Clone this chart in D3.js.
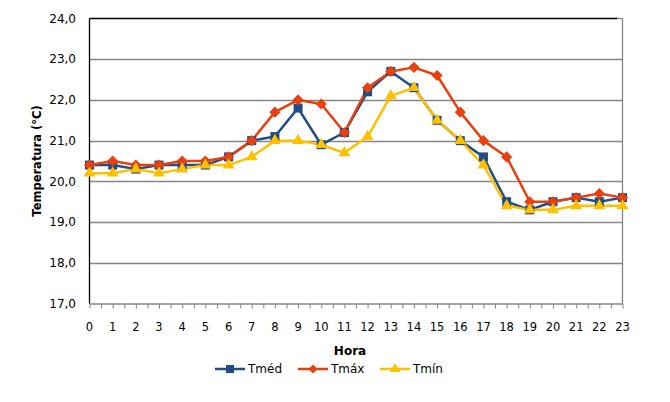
<!DOCTYPE html>
<html>
<head>
<meta charset="utf-8">
<script src="https://cdn.jsdelivr.net/npm/d3@7"></script>
<style>
  body { margin: 0; background: #fff; }
  text { font-family: "DejaVu Sans", Verdana, sans-serif; fill: #000; }
</style>
</head>
<body>
<svg id="chart"></svg>
<script>
// hourly temperature data (°C)
var hours = d3.range(0, 24);
var tmed = [20.4, 20.4, 20.3, 20.4, 20.4, 20.4, 20.6, 21.0, 21.1, 21.8, 20.9, 21.2,
            22.2, 22.7, 22.3, 21.5, 21.0, 20.6, 19.5, 19.3, 19.5, 19.6, 19.5, 19.6];
var tmax = [20.4, 20.5, 20.4, 20.4, 20.5, 20.5, 20.6, 21.0, 21.7, 22.0, 21.9, 21.2,
            22.3, 22.7, 22.8, 22.6, 21.7, 21.0, 20.6, 19.5, 19.5, 19.6, 19.7, 19.6];
var tmin = [20.2, 20.2, 20.3, 20.2, 20.3, 20.4, 20.4, 20.6, 21.0, 21.0, 20.9, 20.7,
            21.1, 22.1, 22.3, 21.5, 21.0, 20.4, 19.4, 19.3, 19.3, 19.4, 19.4, 19.4];
var yTicks = [17, 18, 19, 20, 21, 22, 23, 24];

var width = 670;
var height = 402;
var plot = { left: 89.5, right: 622.5, top: 18.5, bottom: 303.5 };

// square turned 45 degrees (d3's own diamond is too tall)
var squareDiamond = {
  draw: function(context, size) {
    var r = Math.sqrt(size / 2);
    context.moveTo(0, -r);
    context.lineTo(r, 0);
    context.lineTo(0, r);
    context.lineTo(-r, 0);
    context.closePath();
  }
};

var series = [
  { name: "Tméd", values: tmed, color: "#214C85", symbol: d3.symbolSquare, size: 81, legendSize: 64 },
  { name: "Tmáx", values: tmax, color: "#E8400E", symbol: squareDiamond, size: 62, legendSize: 40 },
  { name: "Tmín", values: tmin, color: "#FFC000", symbol: d3.symbolTriangle, size: 60, legendSize: 48 }
];

var svg = d3.select("#chart")
    .attr("width", width)
    .attr("height", height);

var xScale = d3.scaleLinear()
    .domain([0, 23])
    .range([plot.left, plot.right]);

var yScale = d3.scaleLinear()
    .domain([17, 24])
    .range([plot.bottom, plot.top]);

// gridlines
svg.append("g")
  .selectAll("line")
  .data(yTicks.filter(d => d > 17 && d < 24))
  .enter()
  .append("line")
   .attr("x1", plot.left)
   .attr("x2", plot.right)
   .attr("y1", d => Math.round(yScale(d)) + 0.5)
   .attr("y2", d => Math.round(yScale(d)) + 0.5)
   .attr("stroke", "#868686")
   .attr("stroke-width", 1.3);

// plot frame
svg.append("line")
  .attr("x1", plot.left).attr("x2", plot.right - 5)
  .attr("y1", plot.top).attr("y2", plot.top)
  .attr("stroke", "#000").attr("stroke-width", 1.3);
svg.append("line")
  .attr("x1", plot.right - 5).attr("x2", plot.right)
  .attr("y1", plot.top).attr("y2", plot.top)
  .attr("stroke", "#868686").attr("stroke-width", 1.3);
svg.append("line")
  .attr("x1", plot.right).attr("x2", plot.right)
  .attr("y1", plot.top).attr("y2", plot.bottom)
  .attr("stroke", "#868686").attr("stroke-width", 1.3);

// x axis with half-step ticks
var xAxis = d3.axisBottom(xScale)
    .tickValues(d3.range(0, 23.5, 0.5))
    .tickSize(5)
    .tickSizeOuter(0)
    .tickFormat("");

var gx = svg.append("g")
  .attr("transform", `translate(0, ${plot.bottom})`)
  .call(xAxis);
gx.select(".domain").attr("stroke", "#868686").attr("stroke-width", 1.3);
gx.selectAll(".tick line").attr("stroke", "#868686");

svg.append("g")
  .selectAll("text")
  .data(hours)
  .enter()
  .append("text")
   .attr("x", d => xScale(d))
   .attr("y", 331)
   .style("text-anchor", "middle")
   .style("font-size", "11.5px")
   .text(d => d);

// y axis
svg.append("line")
  .attr("x1", plot.left).attr("x2", plot.left)
  .attr("y1", plot.top).attr("y2", plot.bottom)
  .attr("stroke", "#000").attr("stroke-width", 1.3);

svg.append("g")
  .selectAll("text")
  .data(yTicks)
  .enter()
  .append("text")
   .attr("x", 76)
   .attr("y", d => yScale(d))
   .attr("dy", "0.35em")
   .style("text-anchor", "end")
   .style("font-size", "12px")
   .text(d => d3.format(".1f")(d).replace(".", ","));

// lines and markers
var line = d3.line()
    .x((d, i) => xScale(hours[i]))
    .y(d => yScale(d));

series.forEach(function(s) {
  svg.append("path")
    .datum(s.values)
    .attr("d", line)
    .attr("fill", "none")
    .attr("stroke", s.color)
    .attr("stroke-width", 2.5)
    .attr("stroke-linejoin", "round");
});

series.forEach(function(s) {
  svg.append("g")
    .selectAll("path")
    .data(s.values)
    .enter()
    .append("path")
     .attr("transform", (d, i) => `translate(${xScale(hours[i])}, ${yScale(d)})`)
     .attr("d", d3.symbol().type(s.symbol).size(s.size))
     .attr("fill", s.color);
});

// axis titles
svg.append("text")
  .attr("x", 350)
  .attr("y", 355)
  .style("text-anchor", "middle")
  .style("font-size", "12px")
  .style("font-weight", "bold")
  .text("Hora");

svg.append("text")
  .attr("transform", "rotate(-90)")
  .attr("x", -161)
  .attr("y", 41)
  .style("text-anchor", "middle")
  .style("font-size", "11.5px")
  .style("font-weight", "bold")
  .text("Temperatura (°C)");

// legend
var legendX = [215, 298, 380];
var legend = svg.append("g");
series.forEach(function(s, i) {
  var g = legend.append("g").attr("transform", `translate(${legendX[i]}, 369)`);
  g.append("line")
    .attr("x1", 0).attr("x2", 30)
    .attr("stroke", s.color)
    .attr("stroke-width", 2.5);
  g.append("path")
    .attr("transform", "translate(15, 0)")
    .attr("d", d3.symbol().type(s.symbol).size(s.legendSize))
    .attr("fill", s.color);
  g.append("text")
    .attr("x", 33)
    .attr("dy", "0.35em")
    .style("font-size", "12px")
    .text(s.name);
});
</script>
</body>
</html>
